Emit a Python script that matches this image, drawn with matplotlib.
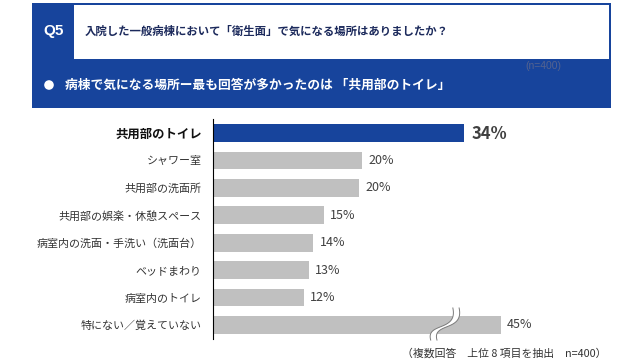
import matplotlib
matplotlib.use("Agg")
import matplotlib.pyplot as plt
from matplotlib.patches import Rectangle, Circle, Polygon
import numpy as np

plt.rcParams['font.family'] = ['Noto Sans CJK JP', 'DejaVu Sans']

# ---- data ----
categories = ["共用部のトイレ", "シャワー室", "共用部の洗面所", "共用部の娯楽・休憩スペース",
              "病室内の洗面・手洗い（洗面台）", "ベッドまわり", "病室内のトイレ", "特にない／覚えていない"]
values = [34.0, 20.2, 19.8, 15.0, 13.6, 13.0, 12.3, 45.0]
value_labels = ["34%", "20%", "20%", "15%", "14%", "13%", "12%", "45%"]
broken_cap = 39.0  # drawn length of the truncated (broken) bar

q_label = "Q5"
title = "入院した一般病棟において「衛生面」で気になる場所はありましたか？"
subtitle = "病棟で気になる場所ー最も回答が多かったのは 「共用部のトイレ」"
n_note = "(n=400)"
note = "（複数回答　上位 8 項目を抽出　n=400）"

BLUE = "#17449c"
GRAY = "#c0c0c0"

fig = plt.figure(figsize=(6.4, 3.6), dpi=100)
fig.patch.set_facecolor("white")

# overlay axes in pixel coordinates for the header
ax0 = fig.add_axes([0, 0, 1, 1])
ax0.set_xlim(0, 640)
ax0.set_ylim(360, 0)
ax0.axis("off")

ax0.add_patch(Rectangle((32, 3), 579, 105, facecolor=BLUE, edgecolor="none"))
ax0.add_patch(Rectangle((74, 5), 535, 54, facecolor="white", edgecolor="none"))
ax0.text(54, 31, q_label, color="white", fontsize=11, fontweight="bold",
         ha="center", va="center", family=["Liberation Sans", "DejaVu Sans"])
ax0.text(85, 31, title, color="#1c2a5c", fontsize=8.2, fontweight="bold",
         ha="left", va="center")
ax0.text(543, 66, n_note, color="#55638f", fontsize=7.5, ha="center", va="center",
         family=["Liberation Sans", "DejaVu Sans"])
ax0.add_patch(Circle((49, 85), 4.8, facecolor="white", edgecolor="none"))
ax0.text(65, 85, subtitle, color="white", fontsize=9.2, fontweight="bold",
         ha="left", va="center")
ax0.text(504, 353, note, color="#333333", fontsize=7.8, ha="center", va="center")

# bar chart axes
px_per_unit = 7.38
ax_left, ax_right = 213, 583
ax_top, ax_bottom = 119.3, 338.7
ax = fig.add_axes([ax_left / 640, 1 - ax_bottom / 360,
                   (ax_right - ax_left) / 640, (ax_bottom - ax_top) / 360])
ax.set_xlim(0, (ax_right - ax_left) / px_per_unit)
ax.set_ylim(len(categories) - 0.5, -0.5)
ax.patch.set_alpha(0)

y = np.arange(len(categories))
drawn = [min(v, broken_cap) for v in values]
colors = [BLUE] + [GRAY] * (len(categories) - 1)
ax.barh(y, drawn, height=0.65, color=colors, edgecolor="none", zorder=2)

for s in ["top", "right", "bottom"]:
    ax.spines[s].set_visible(False)
ax.spines["left"].set_color("#000000")
ax.spines["left"].set_linewidth(0.8)
ax.set_xticks([])
ax.set_yticks(y)
ax.set_yticklabels(categories)
ax.tick_params(axis="y", length=0, pad=8)
for i, lab in enumerate(ax.get_yticklabels()):
    if i == 0:
        lab.set_fontsize(8.9)
        lab.set_fontweight("bold")
        lab.set_color("#111111")
    else:
        lab.set_fontsize(7.9)
        lab.set_color("#333333")

for i, (d, lab) in enumerate(zip(drawn, value_labels)):
    if i == 0:
        ax.annotate(lab, (d, i), xytext=(5.5, -1), textcoords="offset points",
                    ha="left", va="center", fontsize=12, fontweight="bold",
                    color="#404040")
    else:
        ax.annotate(lab, (d, i), xytext=(4.5, 0), textcoords="offset points",
                    ha="left", va="center", fontsize=9, color="#404040")

# break mark on the truncated bar
bi = len(categories) - 1
t = np.linspace(0, 1, 40)
def bez(p0, p1, p2, p3):
    return ((1 - t) ** 3)[:, None] * p0 + (3 * (1 - t) ** 2 * t)[:, None] * p1 \
        + (3 * (1 - t) * t ** 2)[:, None] * p2 + (t ** 3)[:, None] * p3
cx = broken_cap - 8.0
p0 = np.array([cx - 1.5, bi + 0.55])
p1 = np.array([cx - 2.2, bi - 0.1])
p2 = np.array([cx + 2.2, bi + 0.25])
p3 = np.array([cx + 1.5, bi - 0.62])
off = np.array([0.85, 0.0])
c1 = bez(p0, p1, p2, p3)
c2 = c1 + off
poly = np.vstack([c1, c2[::-1]])
ax.add_patch(Polygon(poly, closed=True, facecolor="white", edgecolor="none", zorder=3))
ax.plot(c1[:, 0], c1[:, 1], color="#7a7a7a", lw=0.7, zorder=4, clip_on=False)
ax.plot(c2[:, 0], c2[:, 1], color="#7a7a7a", lw=0.7, zorder=4, clip_on=False)

fig.savefig("out.png", dpi=100, facecolor="white")
